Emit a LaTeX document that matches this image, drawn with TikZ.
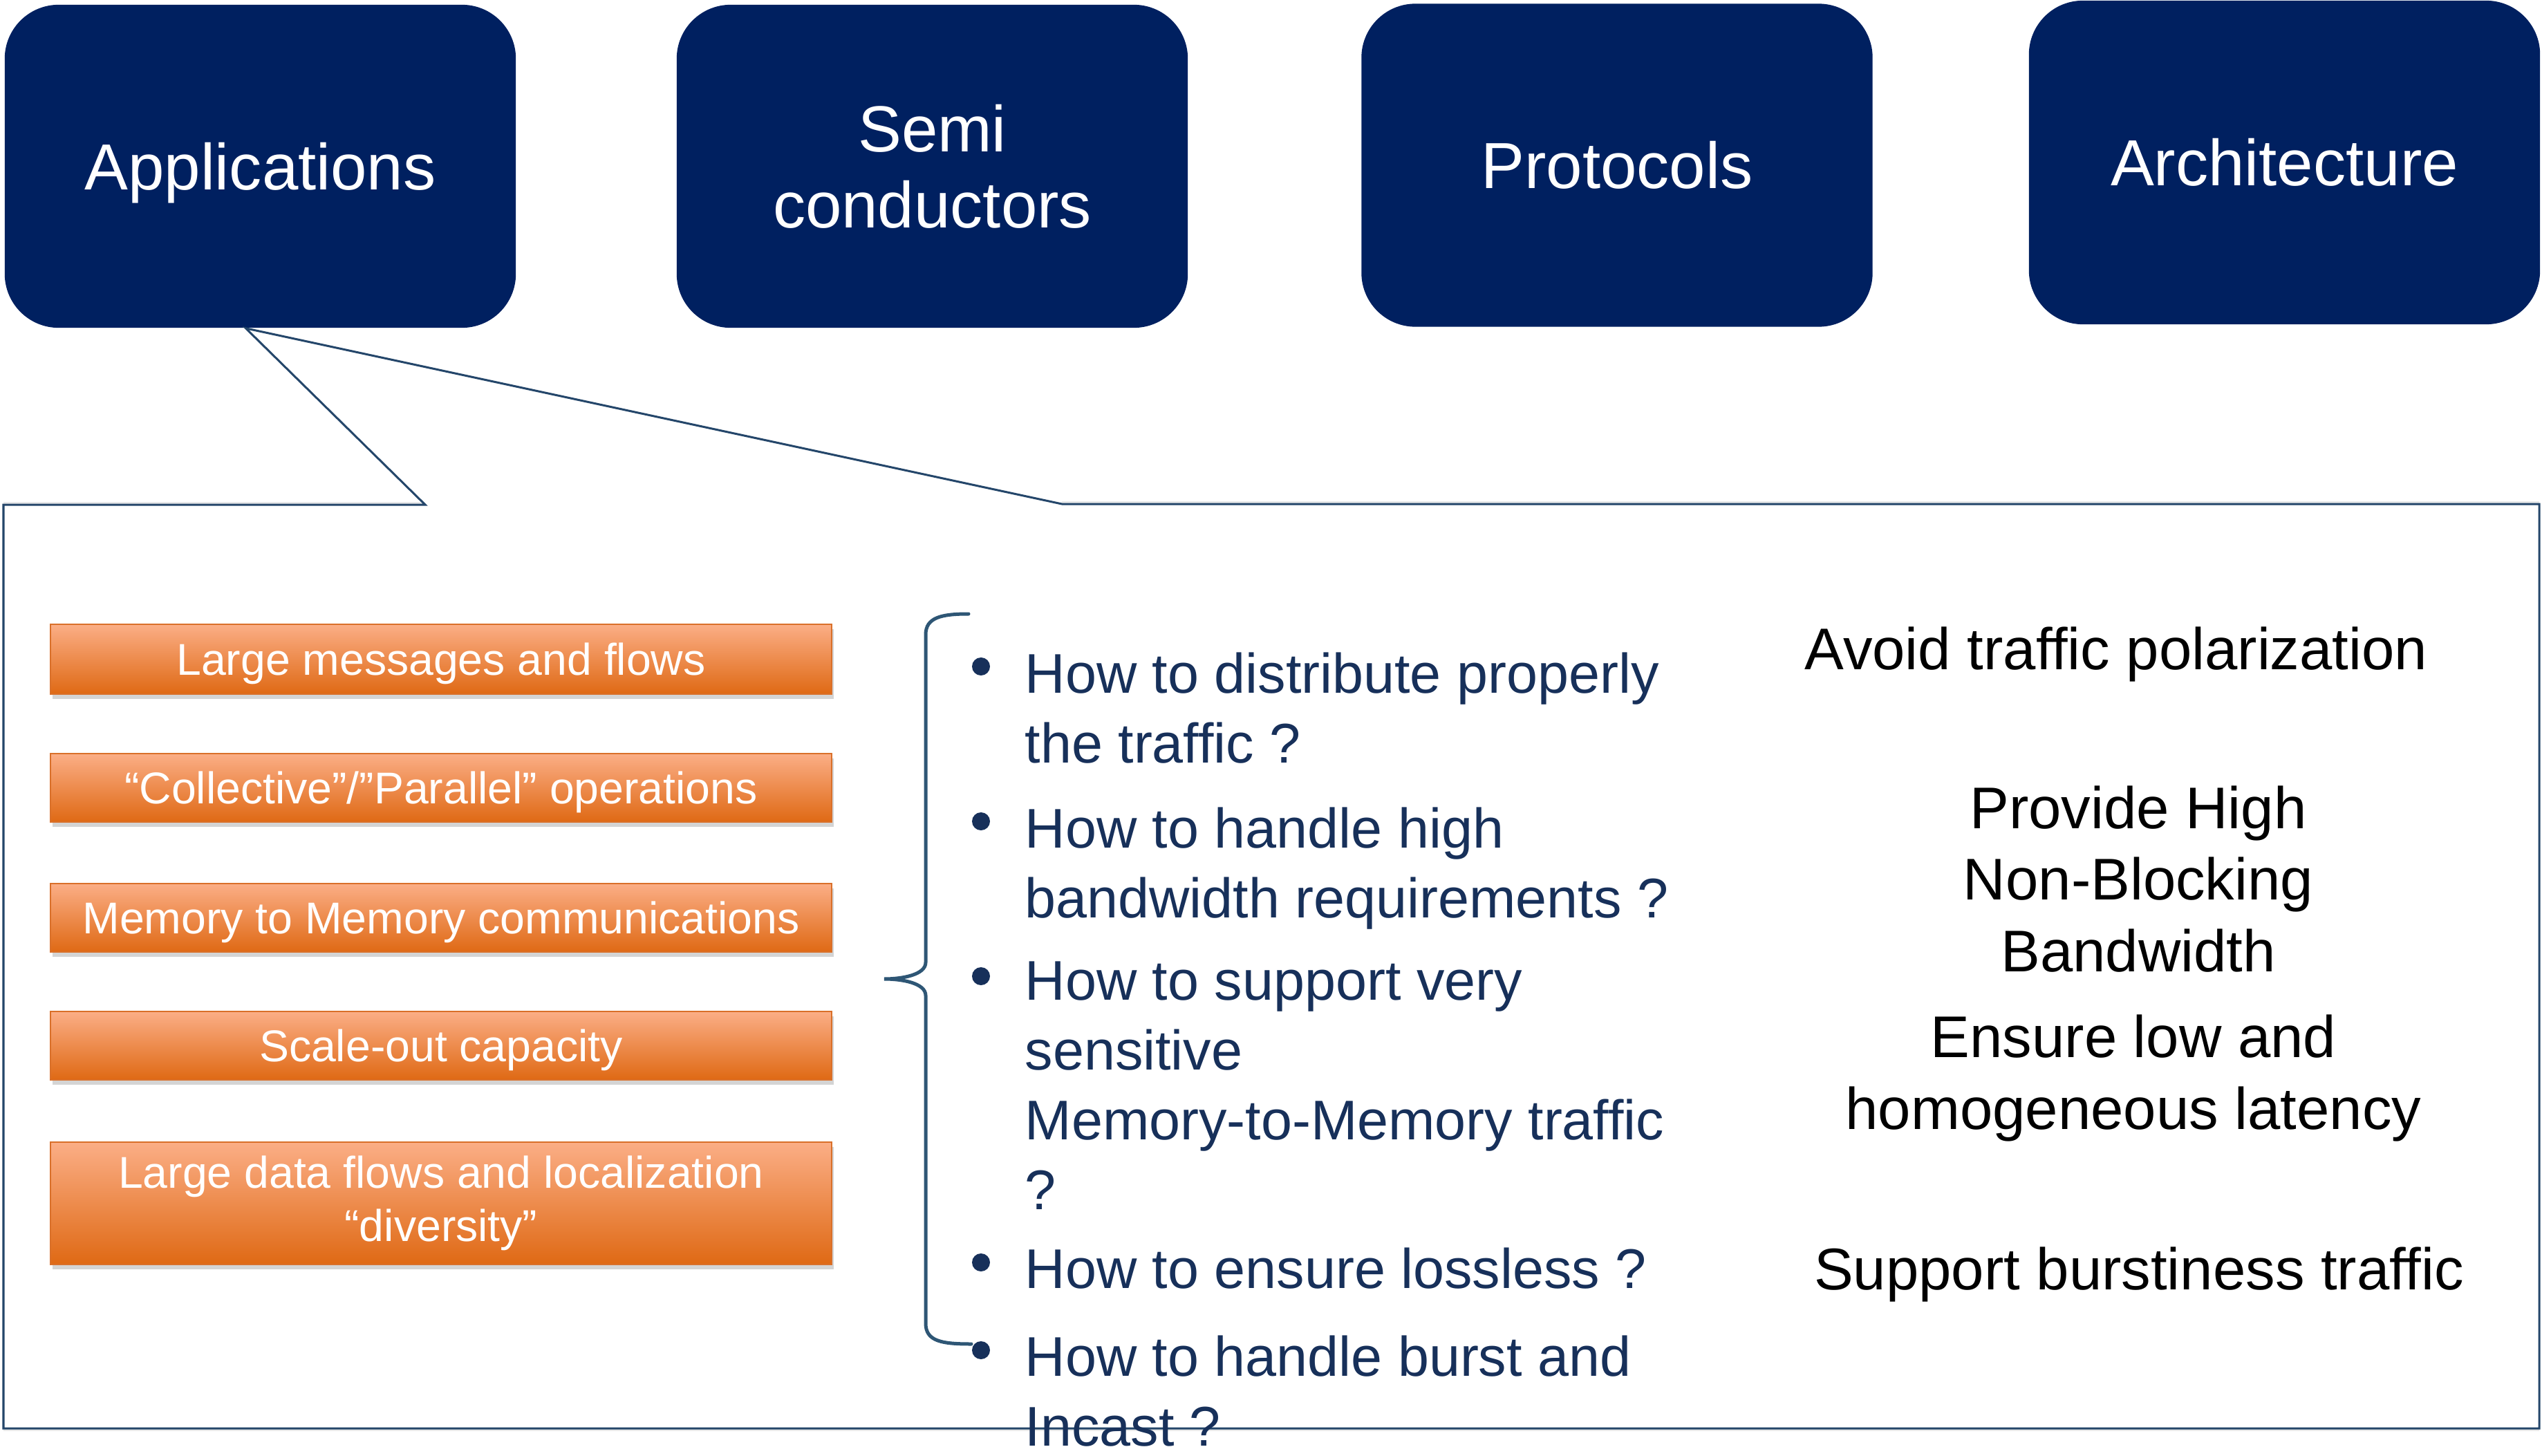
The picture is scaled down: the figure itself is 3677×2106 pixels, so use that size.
\documentclass[tikz,border=0pt]{standalone}
\usepackage{fontspec}
\setmainfont{Liberation Sans}
\usetikzlibrary{shadows}

\definecolor{navy}{HTML}{002060}
\definecolor{qtext}{HTML}{17305A}
\definecolor{calloutline}{HTML}{24466A}
\definecolor{bracecol}{HTML}{2E5675}
\definecolor{orangetop}{HTML}{FBAE86}
\definecolor{orangebot}{HTML}{DF6914}
\definecolor{orangeedge}{HTML}{D9702A}

\tikzset{
  topic/.style={rectangle, rounded corners=0.78cm, fill=navy, draw=none,
    minimum width=7.39cm, minimum height=4.67cm, inner sep=0pt,
    text=white, font=\fontsize{26.8pt}{31.3pt}\selectfont, align=center},
  need/.style={rectangle, top color=orangetop, bottom color=orangebot,
    draw=orangeedge, line width=0.6pt, minimum width=11.3cm, inner sep=0pt,
    text=white, font=\fontsize{18.3pt}{21.9pt}\selectfont, align=center,
    drop shadow={shadow xshift=0.03cm, shadow yshift=-0.07cm, opacity=0.28, fill=black!60}},
  % multi-line nodes: the base anchor sits on the last line's baseline
  question/.style={anchor=base west, inner sep=0pt, align=left, text=qtext,
    font=\fontsize{23pt}{28.7pt}\selectfont},
  dot/.style={circle, fill=qtext, draw=none, minimum size=0.26cm, inner sep=0pt},
  goal/.style={anchor=base, inner sep=0pt, align=center, text=black,
    font=\fontsize{24.2pt}{29.3pt}\selectfont},
}

\begin{document}
\begin{tikzpicture}[x=0.01cm, y=-0.01cm]
\useasboundingbox (0,0) rectangle (3677,2106);

% top row of topics
\node[topic, text height=19.2pt, text depth=0pt] (app) at (376.5,240.5) {Applications};
\node[topic] (semi) at (1348.5,240.5) {Semi\\conductors};
\node[topic, text height=19.2pt, text depth=0pt] (proto) at (2339,239) {Protocols};
\node[topic, text height=19.2pt, text depth=0pt, minimum height=4.68cm] (arch) at (3304.5,235) {Architecture};

% callout from Applications opening onto the detail panel
\coordinate (apex) at ([xshift=-0.21cm]app.south);
\coordinate (pTL) at (5,730);
\coordinate (pL) at (615,730);
\coordinate (pR) at (1536,729);
\coordinate (pTR) at (3673,729);
\coordinate (pBR) at (3673,2066);
\coordinate (pBL) at (5,2066);
\draw[black!25, line width=0.08cm, opacity=0.35, shift={(4,8)}]
  (pTL) -- (pL) (pR) -- (pTR) (pBL) -- (pBR);
\draw[calloutline, line width=0.03cm, line join=miter, fill=white]
  (pTL) -- (pL) -- (apex) -- (pR) -- (pTR) -- (pBR) -- (pBL) -- cycle;

% application requirements
\node[need, minimum height=1.01cm, text height=13pt, text depth=0pt] (n1) at (638,953.5) {Large messages and flows};
\node[need, minimum height=0.99cm, text height=13pt, text depth=0pt] (n2) at (638,1139.5) {“Collective”/”Parallel” operations};
\node[need, minimum height=0.99cm, text height=13pt, text depth=0pt] (n3) at (638,1327.5) {Memory to Memory communications};
\node[need, minimum height=0.99cm, text height=13pt, text depth=0pt] (n4) at (638,1512.5) {Scale-out capacity};
\node[need, minimum height=1.77cm] (n5) at (638,1740.5) {Large data flows and localization\\“diversity”};

% grouping brace
\coordinate (brTop) at (1401,888);
\coordinate (brMid) at (1279,1416);
\coordinate (brBot) at (1405,1944);
\draw[bracecol, line width=0.05cm, line cap=round]
  (brTop) .. controls (1362,888) and (1339,893) .. (1339,918)
  -- (1339,1392) .. controls (1339,1410) and (1305,1416) .. (brMid)
  .. controls (1305,1416) and (1339,1422) .. (1339,1440)
  -- (1339,1914) .. controls (1339,1940) and (1362,1944) .. (brBot);

% questions
\node[dot] (d1) at (1419,964) {};
\node[question] (q1) at (1482,1103) {How to distribute properly\\the traffic ?};
\node[dot] (d2) at (1419,1188) {};
\node[question] (q2) at (1482,1327) {How to handle high\\bandwidth requirements ?};
\node[dot] (d3) at (1419,1412) {};
\node[question] (q3) at (1482,1749) {How to support very\\sensitive\\Memory-to-Memory traffic\\?};
\node[dot] (d4) at (1419,1826) {};
\node[question] (q4) at (1482,1863) {How to ensure lossless ?};
\node[dot] (d5) at (1419,1953) {};
\node[question] (q5) at (1482,2091) {How to handle burst and\\Incast ?};

% goals
\node[goal] (g1) at (3061,968) {Avoid traffic polarization};
\node[goal] (g2) at (3093,1405) {Provide High\\Non-Blocking\\Bandwidth};
\node[goal] (g3) at (3086,1633) {Ensure low and\\homogeneous latency};
\node[goal] (g4) at (3094,1865) {Support burstiness traffic};
\end{tikzpicture}
\end{document}
